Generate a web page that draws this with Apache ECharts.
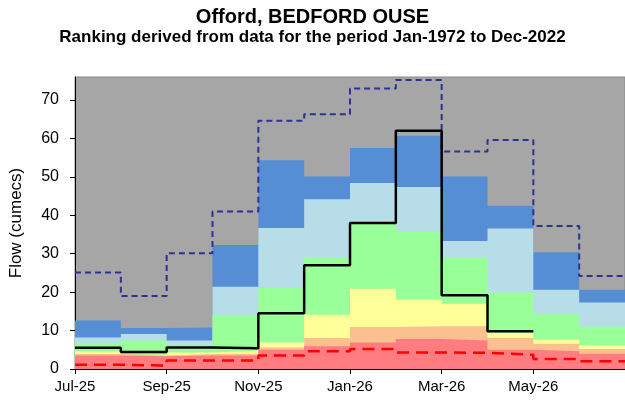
<!DOCTYPE html>
<html>
<head>
<meta charset="utf-8">
<script src="https://cdn.jsdelivr.net/npm/echarts@6/dist/echarts.min.js"></script>
<style>html,body{margin:0;padding:0;background:#fff}#c{width:625px;height:403px}</style>
</head>
<body>
<div id="c"></div>
<script>
// Month labels (one per month, Jul-25 .. Jun-26)
const months = ['Jul-25','Aug-25','Sep-25','Oct-25','Nov-25','Dec-25','Jan-26','Feb-26','Mar-26','Apr-26','May-26','Jun-26'];
// Tops of each ranking band (cumecs)
const blueTop      = [12.6, 10.7, 10.8, 32.3, 54.3, 50.1, 57.5, 60.7, 50.1, 42.5, 30.4, 20.6];
const lightBlueTop = [8.2, 9.1, 7.4, 21.4, 36.7, 44.2, 48.4, 47.4, 33.3, 36.6, 20.6, 17.3];
const greenTop     = [6.8, 7.4, 6.3, 14.0, 21.1, 29.0, 38.0, 35.9, 29.0, 19.9, 14.4, 11.0];
const yellowTop    = [4.6, 3.7, 4.3, 4.8, 6.9, 14.1, 20.9, 18.0, 17.0, 9.4, 7.6, 6.1];
const salmonTop    = [3.9, 3.5, 3.9, 4.0, 5.6, 8.1, 10.9, 11.1, 11.1, 8.1, 6.6, 5.2];
const redTop       = [3.5, 3.3, 3.5, 3.5, 5.0, 5.9, 6.9, 7.8, 7.4, 5.0, 4.6, 4.0];
// Maximum and minimum monthly flows on record
const maxFlow = [25.1, 19.0, 30.1, 41.0, 64.6, 66.3, 73.0, 75.2, 56.6, 59.6, 37.2, 24.2];
const minFlow = [1.1, 0.9, 2.2, 2.2, 3.5, 4.6, 5.2, 4.3, 4.2, 3.7, 2.6, 2.0];
// Actual monthly mean flow (Jul-25 .. Apr-26)
const actualFlow = [5.5, 4.4, 5.6, 5.4, 14.5, 27.0, 38.0, 62.0, 19.2, 9.8];
// Axis ticks
const xTickLabels = ['Jul-25','Sep-25','Nov-25','Jan-26','Mar-26','May-26'];
const yTicks = [0, 10, 20, 30, 40, 50, 60, 70];

const xTickPos = xTickLabels.map(l => months.indexOf(l));

function steps(arr) {
  const d = arr.map((v, i) => [i, v]);
  d.push([arr.length, arr[arr.length - 1]]);
  return d;
}
function band(name, arr, color) {
  return {
    name, type: 'line', step: 'end', data: steps(arr), showSymbol: false, symbol: 'none',
    lineStyle: { width: 0 }, areaStyle: { color, opacity: 1 }, silent: true
  };
}

const chart = echarts.init(document.getElementById('c'));
chart.setOption({
  animation: false,
  textStyle: { fontFamily: 'Liberation Sans, Arial, sans-serif' },
  title: [
    { text: 'Offord, BEDFORD OUSE', left: 'center', top: 2,
      textStyle: { fontSize: 20, fontWeight: 'bold', color: '#000', fontFamily: 'Liberation Sans' } },
    { text: 'Ranking derived from data for the period Jan-1972 to Dec-2022', left: 'center', top: 24,
      textStyle: { fontSize: 17, fontWeight: 'bold', color: '#000', fontFamily: 'Liberation Sans' } }
  ],
  grid: { left: 74, right: -3, top: 77, bottom: 34, show: true, backgroundColor: '#a6a6a6', borderColor: '#888', borderWidth: 1 },
  xAxis: {
    type: 'value', min: 0, max: 12, interval: 2,
    axisLine: { lineStyle: { color: '#000', width: 1 } },
    axisTick: { show: true, length: 5, lineStyle: { color: '#000' }, customValues: xTickPos },
    splitLine: { show: false },
    axisLabel: {
      fontSize: 15, color: '#000', margin: 10, customValues: xTickPos,
      formatter: v => months[v] || ''
    }
  },
  yAxis: {
    type: 'value', min: 0, max: 76, interval: 10,
    name: 'Flow (cumecs)', nameLocation: 'middle', nameGap: 50,
    nameTextStyle: { fontSize: 17, color: '#000' },
    axisLine: { show: true, lineStyle: { color: '#000', width: 1 } },
    axisTick: { show: true, length: 5, lineStyle: { color: '#000' }, customValues: yTicks },
    splitLine: { show: false },
    axisLabel: { fontSize: 16, color: '#000', margin: 16, customValues: yTicks,
      formatter: v => String(v) }
  },
  series: [
    band('blue', blueTop, '#558ed5'),
    band('lightblue', lightBlueTop, '#b7dee8'),
    band('green', greenTop, '#99ff99'),
    band('yellow', yellowTop, '#ffff99'),
    band('salmon', salmonTop, '#fac090'),
    band('red', redTop, '#ff7c80'),
    { name: 'min', type: 'line', step: 'end', data: steps(minFlow), showSymbol: false, symbol: 'none',
      lineStyle: { color: '#ff0000', width: 2.5, type: [12, 7] }, z: 5 },
    { name: 'max', type: 'line', step: 'end', data: steps(maxFlow), showSymbol: false, symbol: 'none',
      lineStyle: { color: '#2e3192', width: 2, type: [6, 4] }, z: 5 },
    { name: 'actual', type: 'line', step: 'end', data: steps(actualFlow), showSymbol: false, symbol: 'none',
      lineStyle: { color: '#000', width: 2.5 }, z: 6 }
  ]
});
</script>
</body>
</html>
